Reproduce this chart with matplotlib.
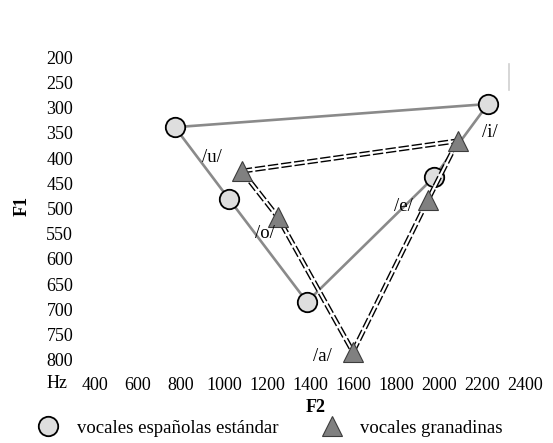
# Triángulo vocálico: vocales estándar vs. granadinas

import matplotlib
matplotlib.use('Agg')
import matplotlib.pyplot as plt
from matplotlib.lines import Line2D

plt.rcParams['font.family'] = ['Liberation Serif', 'DejaVu Serif']
plt.rcParams['lines.scale_dashes'] = False

# Datos (F2, F1 en Hz)
vocales = ['u', 'o', 'a', 'e', 'i']
f2_estandar = [772, 1023, 1386, 1977, 2228]
f1_estandar = [339, 481, 685, 438, 293]
f2_granada = [1084, 1251, 1600, 1949, 2088]
f1_granada = [426, 517, 784, 483, 366]

# posición de las etiquetas /x/
etq_f2 = [944, 1191, 1460, 1833, 2237]
etq_f1 = [398, 549, 794, 497, 349]

xticks = [400, 600, 800, 1000, 1200, 1400, 1600, 1800, 2000, 2200, 2400]
yticks = [200, 250, 300, 350, 400, 450, 500, 550, 600, 650, 700, 750, 800]

W, H = 553, 443
fig = plt.figure(figsize=(W/100, H/100), dpi=100)
ax = fig.add_axes([76/W, (H-370)/H, (540-76)/W, (370-50)/H])

ax.set_xlim(312, 2470)
ax.set_ylim(820, 186)

def camino(xs, ys, orden):
    return [xs[i] for i in orden], [ys[i] for i in orden]

# vocales estándar: u-i, u-o-a-e-i
for orden in ([0, 4], [0, 1, 2, 3, 4]):
    px, py = camino(f2_estandar, f1_estandar, orden)
    ax.plot(px, py, color='#8a8a8a', lw=1.9, zorder=2)

ax.plot(f2_estandar, f1_estandar, 'o', ms=14, mfc='#dedede', mec='black', mew=1.3,
        zorder=3)

# vocales granadinas: doble línea discontinua
for orden in ([0, 4], [0, 1, 2], [2, 3, 4]):
    px, py = camino(f2_granada, f1_granada, orden)
    ax.plot(px, py, color='black', lw=3.6, dashes=(7.5, 2), zorder=4,
            solid_capstyle='butt', dash_capstyle='butt')
    ax.plot(px, py, color='white', lw=1.6, zorder=4.5, solid_capstyle='butt')

ax.plot(f2_granada, f1_granada, '^', ms=14, mfc='#808080', mec='#3c3c3c', mew=0.8,
        zorder=5)

for v, x, y in zip(vocales, etq_f2, etq_f1):
    ax.text(x, y, '/' + v + '/', fontsize=13.5, ha='center', va='center', zorder=6)

ax.set_xticks(xticks)
ax.set_yticks(yticks)
ax.tick_params(length=0, labelsize=13)
ax.tick_params(axis='x', pad=5)
ax.tick_params(axis='y', pad=2)
for s in ax.spines.values():
    s.set_visible(False)

fig.text(57/W, 1-383/H, 'Hz', fontsize=13, ha='center', va='center')
fig.text(22/W, 1-206/H, 'F1', fontsize=13, fontweight='bold', rotation=90,
         ha='center', va='center')
fig.text(316/W, 1-408/H, 'F2', fontsize=13, fontweight='bold', ha='center', va='center')

# pequeña marca vertical arriba a la derecha
fig.add_artist(Line2D([509/W, 509/W], [1-64/H, 1-90/H], color='#d0d0d0', lw=1.2))

h1 = Line2D([], [], ls='none', marker='o', ms=14, mfc='#dedede', mec='black', mew=1.3)
h2 = Line2D([], [], ls='none', marker='^', ms=14, mfc='#808080', mec='#3c3c3c', mew=0.8)
fig.legend([h1, h2], ['vocales españolas estándar', 'vocales granadinas'],
           loc='center left', bbox_to_anchor=(37/W, 1-428/H), ncol=2, frameon=False,
           fontsize=13.5, handlelength=1.2, handletextpad=0.93, columnspacing=2.24,
           borderpad=0, borderaxespad=0)

fig.savefig('out.png', dpi=100)
